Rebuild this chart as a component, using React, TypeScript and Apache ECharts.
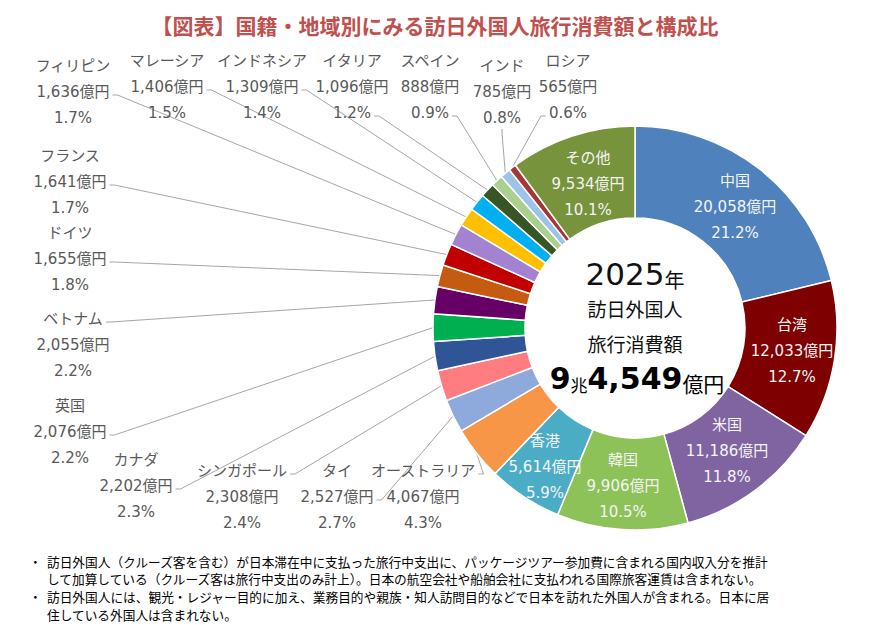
import React, { useEffect, useRef } from 'react';
import * as echarts from 'echarts';

const TITLE = '【図表】国籍・地域別にみる訪日外国人旅行消費額と構成比';
const categories = ['中国', '台湾', '米国', '韓国', '香港', 'オーストラリア', 'タイ', 'シンガポール', 'カナダ', '英国', 'ベトナム', 'ドイツ', 'フランス', 'フィリピン', 'マレーシア', 'インドネシア', 'イタリア', 'スペイン', 'インド', 'ロシア', 'その他'];
const amounts = [20058, 12033, 11186, 9906, 5614, 4067, 2527, 2308, 2202, 2076, 2055, 1655, 1641, 1636, 1406, 1309, 1096, 888, 785, 565, 9534];
const shares = [21.2, 12.7, 11.8, 10.5, 5.9, 4.3, 2.7, 2.4, 2.3, 2.2, 2.2, 1.8, 1.7, 1.7, 1.5, 1.4, 1.2, 0.9, 0.8, 0.6, 10.1];
const sliceColors = ['#4F81BD', '#7F0000', '#8064A2', '#8DC258', '#4BACC6', '#F79646', '#8EA9DB', '#FF7C80', '#2F5597', '#00B050', '#660066', '#C55A11', '#C00000', '#A383D0', '#FFC000', '#00B0F0', '#375623', '#A9D08E', '#9DC3E6', '#A5373A', '#77933C'];
const insideIdx = [0, 1, 2, 3, 4, 20];
const centerYear = '2025';
const centerYearUnit = '年';
const centerLines = ['訪日外国人', '旅行消費額'];
const totalCho = '9';
const totalOku = '4,549';
const notes = [
  '訪日外国人（クルーズ客を含む）が日本滞在中に支払った旅行中支出に、パッケージツアー参加費に含まれる国内収入分を推計',
  'して加算している（クルーズ客は旅行中支出のみ計上）。日本の航空会社や船舶会社に支払われる国際旅客運賃は含まれない。',
  '訪日外国人には、観光・レジャー目的に加え、業務目的や親族・知人訪問目的などで日本を訪れた外国人が含まれる。日本に居',
  '住している外国人は含まれない。',
];
const noteBullets = [true, false, true, false];

// ---- layout (positions, not data) ----
const CX = 635;
const CY = 328;
const LABEL_XY: number[][] = [
  [735, 207], [792, 351], [727, 451], [623, 486], [545, 467],
  [423, 497], [337, 497], [242, 497], [136, 486], [70, 432], [73, 345], [70, 259], [70, 182],
  [73, 92], [167, 87], [262, 87], [352, 87], [430, 87], [502, 92], [568, 87], [588, 184],
];
const ANCHORS: Record<number, [string, string]> = {
  5: ['name', 'r'], 6: ['value', 'r'], 7: ['name', 'r'], 8: ['value', 'r'], 9: ['value', 'r'],
  10: ['name', 'r'], 11: ['value', 'r'], 12: ['value', 'r'], 13: ['value', 'r'], 14: ['value', 'r'],
  15: ['value', 'r'], 16: ['pct', 'r'], 17: ['pct', 'r'], 18: ['pct', 'b'], 19: ['pct', 'l'],
};
const FONT = '"DejaVu Sans", "Noto Sans CJK JP", sans-serif';
const JP = '"Noto Sans CJK JP", sans-serif';
const LABEL_SIZE = 15;
const LH = 26;

const valueText = (i: number) => `${amounts[i].toLocaleString('en-US')}億円`;
const pctText = (i: number) => `${shares[i].toFixed(1)}%`;

let measureCtx: CanvasRenderingContext2D | null = null;
function textWidth(t: string, size: number) {
  if (!measureCtx) measureCtx = document.createElement('canvas').getContext('2d');
  if (!measureCtx) return t.length * size * 0.7;
  measureCtx.font = `${size}px ${FONT}`;
  return measureCtx.measureText(t).width;
}

export default function App() {
  const ref = useRef<HTMLDivElement>(null);
  useEffect(() => {
    if (!ref.current) return;
    const chart = echarts.init(ref.current, undefined, { renderer: 'svg' });
    const data = categories.map((name, i) => {
      const inside = insideIdx.includes(i);
      return {
        name,
        value: amounts[i],
        itemStyle: { color: sliceColors[i] },
        label: inside ? { position: 'inside', color: '#F4F4F4' } : undefined,
        labelLine: inside ? { show: false } : undefined,
      };
    });
    const graphics: any[] = [
      {
        type: 'text', x: CX, y: 272,
        style: {
          text: `{a|${centerYear}}{b|${centerYearUnit}}`, align: 'center', verticalAlign: 'middle',
          rich: {
            a: { fontSize: 31, fontFamily: FONT, fill: '#111', verticalAlign: 'bottom', lineHeight: 34 },
            b: { fontSize: 20, fontFamily: JP, fill: '#111', verticalAlign: 'bottom', lineHeight: 30 },
          },
        },
      },
      ...centerLines.map((t, k) => ({
        type: 'text', x: CX, y: 308 + k * 35,
        style: { text: t, align: 'center', verticalAlign: 'middle', fontSize: 19, fontFamily: JP, fill: '#111' },
      })),
      {
        type: 'text', x: CX + 2, y: 376,
        style: {
          text: `{a|${totalCho}}{b|兆}{a|${totalOku}}{c|億円}`, align: 'center', verticalAlign: 'middle',
          rich: {
            a: { fontSize: 30, fontWeight: 'bold', fontFamily: FONT, fill: '#000', verticalAlign: 'bottom', lineHeight: 34 },
            b: { fontSize: 17, fontFamily: JP, fill: '#000', verticalAlign: 'bottom', lineHeight: 30 },
            c: { fontSize: 21, fontFamily: JP, fill: '#000', verticalAlign: 'bottom', lineHeight: 32 },
          },
        },
      },
    ];
    notes.forEach((t, k) => {
      const y = 561 + k * 17.8;
      if (noteBullets[k]) {
        graphics.push({ type: 'text', x: 29, y, style: { text: '・', verticalAlign: 'middle', fontSize: 12.7, fontFamily: JP, fill: '#000' } });
      }
      graphics.push({ type: 'text', x: 47, y, style: { text: t, verticalAlign: 'middle', fontSize: 12.7, fontFamily: JP, fill: '#000' } });
    });

    chart.setOption({
      animation: false,
      title: {
        text: TITLE, left: 'center', top: 9,
        textStyle: { fontSize: 21, fontWeight: 'bold', color: '#C0504D', fontFamily: JP },
      },
      graphic: graphics,
      series: [
        {
          type: 'pie',
          center: [CX, CY],
          radius: [110, 202],
          startAngle: 90,
          clockwise: true,
          avoidLabelOverlap: false,
          itemStyle: { borderColor: '#fff', borderWidth: 1.5 },
          label: {
            show: true,
            position: 'outside',
            color: '#595959',
            fontSize: LABEL_SIZE,
            lineHeight: LH,
            fontFamily: FONT,
            formatter: (p: any) => `${p.name}\n${valueText(p.dataIndex)}\n${pctText(p.dataIndex)}`,
          },
          labelLine: { show: true, length: 10, length2: 10, lineStyle: { color: '#A6A6A6', width: 1 } },
          labelLayout: (p: any) => {
            const i = p.dataIndex;
            const [x, y] = LABEL_XY[i];
            const out: any = { x, y, align: 'center', verticalAlign: 'middle' };
            const a = ANCHORS[i];
            if (a && p.labelLinePoints && p.labelLinePoints[0]) {
              const edge = p.labelLinePoints[0];
              const [row, side] = a;
              const txt = row === 'name' ? categories[i] : row === 'value' ? valueText(i) : pctText(i);
              const w = textWidth(txt, LABEL_SIZE);
              const ry = y + (row === 'name' ? -LH : row === 'pct' ? LH : 0) + 3;
              let anchor: number[];
              let bend: number[];
              if (side === 'r') {
                anchor = [x + w / 2 + 3, ry];
                bend = [anchor[0] + 5, ry];
              } else if (side === 'l') {
                anchor = [x - w / 2 - 3, ry];
                bend = [anchor[0] - 5, ry];
              } else {
                anchor = [x, y + LH + 11];
                bend = [x, y + LH + 15];
              }
              out.labelLinePoints = [edge, bend, anchor];
            }
            return out;
          },
          data,
        },
      ],
    });
    return () => chart.dispose();
  }, []);
  return <div ref={ref} style={{ position: 'absolute', left: 0, top: 0, width: 870, height: 625 }} />;
}
